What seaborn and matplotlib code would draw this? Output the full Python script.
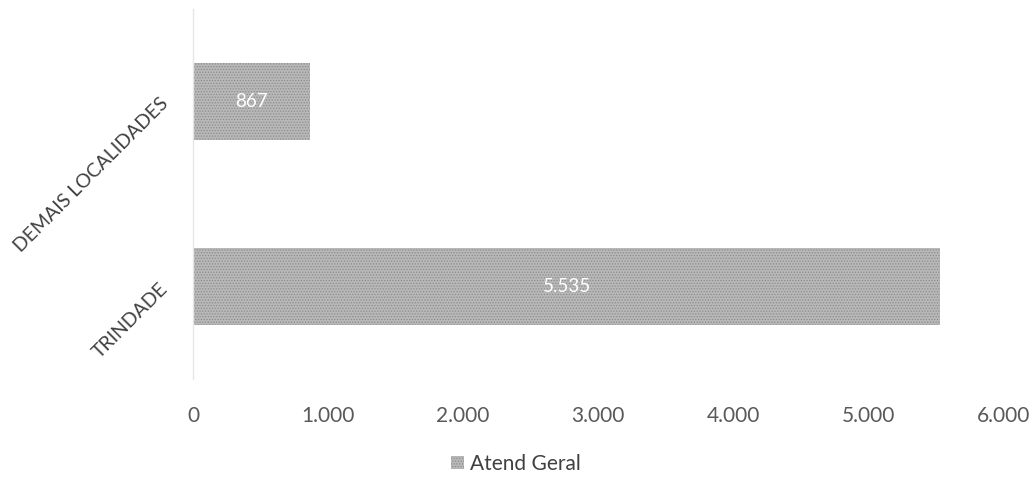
import matplotlib.pyplot as plt
import seaborn as sns
import pandas as pd

# dados do gráfico
localidades = ['DEMAIS LOCALIDADES', 'TRINDADE']
atendimentos = [867, 5535]
serie = 'Atend Geral'
xticks = [0, 1000, 2000, 3000, 4000, 5000, 6000]
xtick_labels = ['0', '1.000', '2.000', '3.000', '4.000', '5.000', '6.000']
rotulos = ['867', '5.535']

df = pd.DataFrame({'Localidade': localidades, 'Atend': atendimentos})

sns.set_theme(style='white')
plt.rcParams['font.family'] = ['Lato', 'DejaVu Sans']
plt.rcParams['hatch.linewidth'] = 0.6

fig = plt.figure(figsize=(10.32, 4.8), dpi=100)
ax = fig.add_axes([0.187, 0.211, 0.785, 0.771])

sns.barplot(data=df, x='Atend', y='Localidade', orient='h', ax=ax,
            color='#b8b8b8', width=0.415, saturation=1, label=serie)
for p in ax.patches:
    p.set_hatch('......')
    p.set_edgecolor('#8c8c8c')
    p.set_linewidth(0)

# rótulos de dados
for p, txt in zip(ax.patches, rotulos):
    ax.text(p.get_x() + p.get_width() / 2, p.get_y() + p.get_height() / 2, txt,
            color='white', ha='center', va='center', fontsize=13.5)

ax.set_xlim(0, 6000)
ax.set_ylim(1.5, -0.5)
ax.set_xticks(xticks)
ax.set_xticklabels(xtick_labels, fontsize=15, color='#595959')
ax.tick_params(axis='x', pad=20, length=0)
ax.tick_params(axis='y', length=0, pad=20)
ax.set_yticks(range(len(localidades)))
ax.set_yticklabels(localidades, rotation=45, ha='right', va='center',
                   rotation_mode='anchor', fontsize=14, color='#404040')
ax.set_xlabel('')
ax.set_ylabel('')

for s in ['top', 'right', 'bottom']:
    ax.spines[s].set_visible(False)
ax.spines['left'].set_color('#e6e6e6')
ax.spines['left'].set_linewidth(1)

handles, labels = ax.get_legend_handles_labels()
if ax.get_legend() is not None:
    ax.get_legend().remove()
leg = fig.legend(handles, labels, loc='center', bbox_to_anchor=(0.5, 0.034),
                 frameon=False, fontsize=15, handlelength=0.6, handleheight=0.6,
                 handletextpad=0.3, borderpad=0)
for t in leg.get_texts():
    t.set_color('#404040')

fig.savefig('out.png', dpi=100)
